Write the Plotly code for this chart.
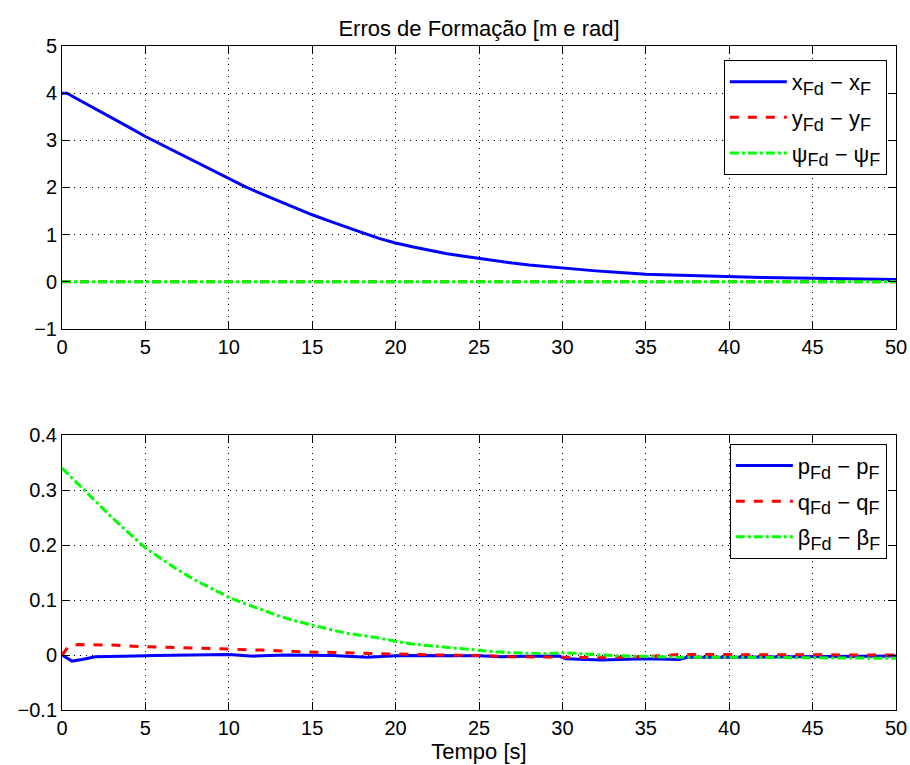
import plotly.graph_objects as go
from plotly.subplots import make_subplots

# ---- top panel data ----
t_top = [0, 0.3, 1, 2, 3, 4, 5, 6, 7, 8, 9, 10, 11, 12, 13, 14, 15, 16, 17, 18,
         19, 20, 21, 22, 23, 24, 25, 26, 27, 28, 29, 30, 31, 32, 33, 34, 35, 36,
         37, 38, 39, 40, 42, 44, 46, 48, 50]
x_err = [4.0, 4.0, 3.86, 3.67, 3.48, 3.28, 3.08, 2.90, 2.72, 2.54, 2.36, 2.18,
         2.01, 1.86, 1.71, 1.56, 1.42, 1.29, 1.16, 1.04, 0.92, 0.82, 0.74, 0.665,
         0.60, 0.545, 0.49, 0.44, 0.395, 0.355, 0.32, 0.29, 0.26, 0.23, 0.205,
         0.18, 0.16, 0.147, 0.135, 0.124, 0.114, 0.106, 0.09, 0.077, 0.066,
         0.056, 0.047]
t_zero = [0, 50]
y_err = [0, 0]
psi_err = [0, 0]

# ---- bottom panel data ----
t_p = [0, 0.6, 1.2, 2, 4.4, 5.6, 10, 10.8, 11.5, 13.5, 14.3, 16.2, 18.3, 20.3,
       25, 26.3, 29.8, 30.2, 32.3, 35, 37, 37.5, 40, 45, 50]
p_err = [0, -0.011, -0.008, -0.003, -0.002, -0.001, 0.001, 0.0, -0.002, 0.0,
         0.0, -0.001, -0.004, -0.001, -0.0015, -0.003, -0.002, -0.007, -0.009,
         -0.007, -0.008, -0.004, -0.004, -0.003, -0.002]

t_q = [0, 0.4, 1, 2, 3, 5, 7.5, 10, 12, 14.3, 15.6, 17, 18.4, 21, 22.5, 24,
       25.4, 26.6, 28, 29.5, 30.6, 32, 35, 37, 40, 45, 50]
q_err = [0, 0.016, 0.019, 0.019, 0.018, 0.015, 0.013, 0.011, 0.009, 0.006,
         0.005, 0.003, 0.002, 0.001, 0.0, -0.0005, -0.001, -0.003, -0.003,
         -0.003, -0.004, -0.005, -0.003, 0.001, 0.001, 0.001, 0.0]

t_b = [0, 1, 2, 3, 4, 5, 6, 7, 8, 9, 10, 11, 12, 13, 14, 15, 16, 17, 18, 19,
       20, 21, 22, 23, 24, 25, 26, 27, 28, 29, 30, 31, 32, 33, 34, 35, 37, 40,
       43, 46, 50]
b_err = [0.34, 0.31, 0.28, 0.25, 0.222, 0.195, 0.174, 0.154, 0.136, 0.12,
         0.105, 0.093, 0.082, 0.071, 0.062, 0.054, 0.047, 0.040, 0.036, 0.031,
         0.025, 0.02, 0.017, 0.014, 0.011, 0.009, 0.006, 0.004, 0.003, 0.0025,
         0.004, 0.002, 0.0, -0.001, -0.002, -0.003, -0.004, -0.004, -0.005,
         -0.005, -0.006]

FONT = "Liberation Sans, Arial, Helvetica, sans-serif"
BLUE, RED, GREEN = "#0000ff", "#ff0000", "#00ff00"

fig = make_subplots(rows=2, cols=1)

def lab(a, b):
    s = "<span style='font-size:18px'>%s</span>"
    return "%s<sub>%s</sub> − %s<sub>%s</sub>" % (a, s % "Fd", b, s % "F")

def add(x, y, name, color, dash, row, legend):
    fig.add_trace(go.Scatter(x=x, y=y, mode="lines", name=name,
                             line=dict(color=color, width=3, dash=dash),
                             legend=legend, legendgroup=name),
                  row=row, col=1)

add(t_top, x_err, lab("x", "x"), BLUE, "solid", 1, "legend")
add(t_zero, y_err, lab("y", "y"), RED, "dash", 1, "legend")
add(t_zero, psi_err, lab("ψ", "ψ"), GREEN, "dashdot", 1, "legend")
add(t_p, p_err, lab("p", "p"), BLUE, "solid", 2, "legend2")
add(t_q, q_err, lab("q", "q"), RED, "dash", 2, "legend2")
add(t_b, b_err, lab("β", "β"), GREEN, "dashdot", 2, "legend2")

axis_common = dict(showline=True, linecolor="black", linewidth=1, mirror="ticks",
                   ticks="inside", ticklen=8, tickcolor="black", automargin=False,
                   showgrid=True, gridcolor="black", gridwidth=1, griddash="1px,5px",
                   zeroline=False, tickfont=dict(family=FONT, size=20, color="black"))

fig.update_xaxes(**axis_common, range=[0, 50], tickvals=list(range(0, 51, 5)))
fig.update_yaxes(**axis_common)
fig.update_yaxes(range=[-1, 5], tickvals=[-1, 0, 1, 2, 3, 4, 5],
                 ticktext=["−1", "0", "1", "2", "3", "4", "5"], domain=[0.574, 1.0], row=1, col=1)
fig.update_yaxes(range=[-0.1, 0.4], tickvals=[-0.1, 0, 0.1, 0.2, 0.3, 0.4],
                 ticktext=["−0.1", "0", "0.1", "0.2", "0.3", "0.4"], domain=[0.0, 0.414], row=2, col=1)
fig.update_xaxes(title=dict(text="Tempo [s]", font=dict(family=FONT, size=22, color="black"), standoff=2),
                 row=2, col=1)

leg_common = dict(bgcolor="white", bordercolor="black", borderwidth=1,
                  font=dict(family=FONT, size=22, color="black"),
                  xanchor="right", yanchor="top", tracegroupgap=4, itemwidth=57)
fig.update_layout(
    width=910, height=765,
    margin=dict(l=62, r=14, t=46, b=55),
    plot_bgcolor="white", paper_bgcolor="white",
    title=dict(text="Erros de Formação [m e rad]", x=0.5, xref="paper", xanchor="center",
               y=1 - 28 / 765, yanchor="middle",
               font=dict(family=FONT, size=22, color="black")),
    legend=dict(**leg_common, x=0.989, y=0.979),
    legend2=dict(**leg_common, x=0.989, y=0.401),
    showlegend=True,
)

fig.write_html("out.html", config={"displayModeBar": False},
               post_script="document.body.style.margin='0';document.body.style.padding='0';")
